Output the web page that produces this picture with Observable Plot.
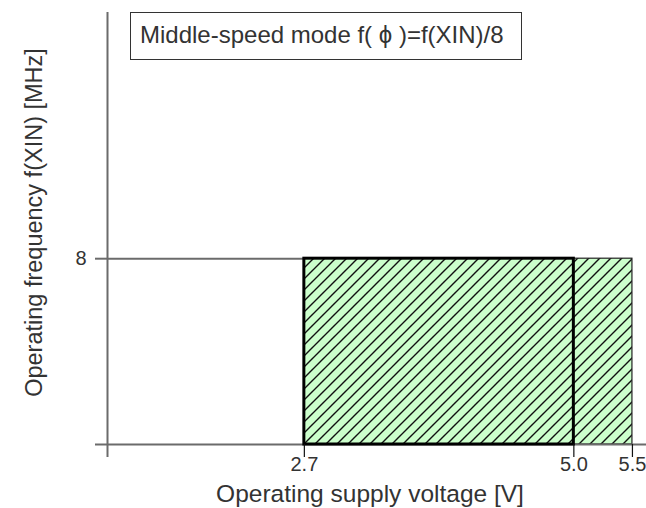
<!DOCTYPE html>
<html>
<head>
<meta charset="utf-8">
<script src="https://cdn.jsdelivr.net/npm/d3@7"></script>
<script src="https://cdn.jsdelivr.net/npm/@observablehq/plot@0.6"></script>
<style>
  html, body { margin: 0; padding: 0; background: #fff; }
  #wrap { position: relative; width: 646px; height: 508px; font-family: "Liberation Sans", Arial, sans-serif; }
  #title { position: absolute; left: 130px; top: 12px; width: 381px; height: 46px; border: 1.5px solid #333;
           background: #fff; font-size: 24px; color: #333; line-height: 44px; padding-left: 9px; box-sizing: content-box; white-space: nowrap; }
</style>
</head>
<body>
<div id="wrap"><div id="title"></div></div>
<script>
// Data
const titleText = "Middle-speed mode f( ϕ )=f(XIN)/8";
const xLabel = "Operating supply voltage [V]";
const yLabel = "Operating frequency f(XIN) [MHz]";
const xOrigin = 1.02;           // schematic origin of the voltage axis
const xMax = 5.62;
const yMax = 18.6;
const voltageTicks = [2.7, 5.0, 5.5];
const voltageTickLabels = ["2.7", "5.0", "5.5"];
const freqTicks = [8];
const freqTickLabels = ["8"];
// operating regions
const regionMain = [{v1: 2.7, v2: 5.0, f1: 0, f2: 8}];
const regionExt = [{v1: 5.0, v2: 5.5, f1: 0, f2: 8}];

document.getElementById("title").textContent = titleText;

const axisGray = "#6b6b6b";
const textColor = "#333";

const chart = Plot.plot({
  width: 646,
  height: 508,
  marginLeft: 107,
  marginRight: 0,
  marginTop: 12,
  marginBottom: 64,
  style: {fontFamily: "Liberation Sans, Arial, sans-serif", color: textColor, background: "transparent"},
  x: {type: "linear", domain: [xOrigin, xMax], axis: null},
  y: {type: "linear", domain: [0, yMax], axis: null},
  marks: [
    // extension region (thin border)
    Plot.rect(regionExt, {x1: "v1", x2: "v2", y1: "f1", y2: "f2", fill: "url(#hatch)", stroke: "#222", strokeWidth: 1.2}),
    // y=8 guide line from axis to region
    Plot.ruleY(freqTicks, {x1: xOrigin, x2: 2.7, stroke: axisGray, strokeWidth: 2}),
    // x axis line
    Plot.ruleY([0], {x1: xOrigin, x2: xMax, stroke: axisGray, strokeWidth: 2}),
    // y axis line
    Plot.ruleX([xOrigin], {y1: 0, y2: yMax, stroke: axisGray, strokeWidth: 2}),
    // main region (thick border)
    Plot.rect(regionMain, {x1: "v1", x2: "v2", y1: "f1", y2: "f2", fill: "url(#hatch)", stroke: "#000", strokeWidth: 3}),
    // y ticks (0 and 8) extending left
    Plot.axisY([0, ...freqTicks], {tickSize: 12, stroke: axisGray, strokeWidth: 2, tickFormat: () => "", label: null}),
    Plot.text(freqTicks, {y: d => d, frameAnchor: "left", textAnchor: "end", dx: -21, fontSize: 20, fill: textColor,
      text: (d, i) => freqTickLabels[i]}),
    // origin tick below x axis
    Plot.axisX([xOrigin], {tickSize: 13, stroke: axisGray, strokeWidth: 2, tickFormat: () => "", label: null}),
    // voltage ticks
    Plot.axisX(voltageTicks, {tickSize: 13, stroke: "#111", strokeWidth: 1.2, tickFormat: () => "", label: null}),
    Plot.text(voltageTicks, {x: d => d, frameAnchor: "bottom", dy: 26, fontSize: 20, fill: textColor,
      text: (d, i) => voltageTickLabels[i]}),
    // axis titles
    Plot.text([xLabel], {frameAnchor: "bottom", text: d => d, dx: -7, dy: 57, fontSize: 24.5, fill: textColor}),
    Plot.text([yLabel], {frameAnchor: "left", text: d => d, textAnchor: "middle", rotate: -90, dx: -73, dy: -6, fontSize: 23.5, fill: textColor})
  ]
});

// hatch pattern definition
const svg = d3.select(chart);
const defs = svg.insert("defs", ":first-child");
const pat = defs.append("pattern").attr("id", "hatch").attr("patternUnits", "userSpaceOnUse")
  .attr("width", 11).attr("height", 11);
pat.append("rect").attr("width", 11).attr("height", 11).attr("fill", "#ccffcc");
pat.append("path").attr("d", "M0,11 L11,0 M-3,3 L3,-3 M8,14 L14,8")
  .attr("stroke", "#111").attr("stroke-width", 1.4);

chart.style.position = "absolute";
chart.style.left = "0";
chart.style.top = "0";
const wrap = document.getElementById("wrap");
wrap.insertBefore(chart, wrap.firstChild);
</script>
</body>
</html>
